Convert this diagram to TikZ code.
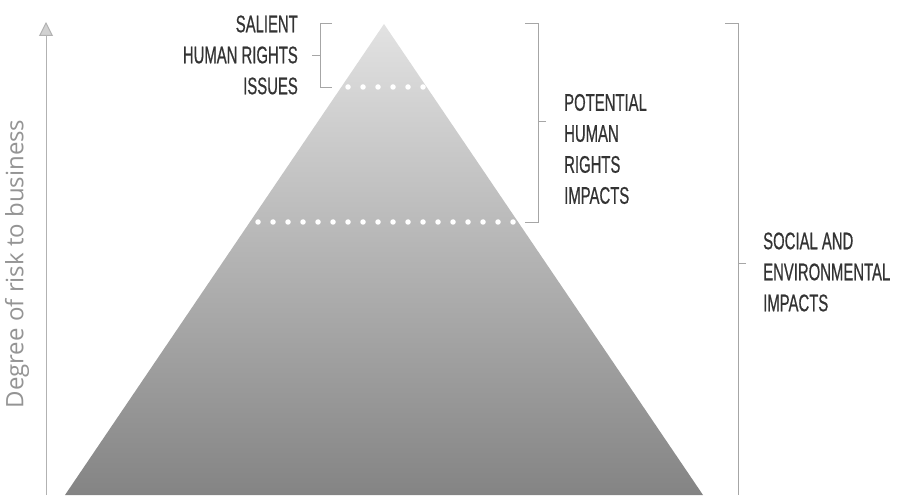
\documentclass[tikz,border=0pt]{standalone}
\usepackage{fontspec}
\setmainfont{Open Sans}
\newfontfamily\capsfont[FakeStretch=0.62,FakeBold=0.6]{Liberation Sans}
\usepackage{tikz}
\usetikzlibrary{arrows.meta,positioning,calc}

\begin{document}
\begin{tikzpicture}[x=1pt,y=1pt]
\tikzstyle{caps}=[font=\capsfont\fontsize{24}{31}\selectfont, text=black!80, inner sep=0pt]
\tikzstyle{brace}=[draw=black!35, line width=0.9pt]
\tikzstyle{dots}=[white, line width=5.5pt, line cap=round, dash pattern=on 0pt off 15pt]
\tikzstyle{connect}=[-{Triangle[width=14pt,length=14pt,fill=black!18]}, draw=black!30, line width=1pt]

\useasboundingbox (0,0) rectangle (900,496);

  % pyramid
  \coordinate (top)   at (384,472);
  \coordinate (baseL) at (65,1);
  \coordinate (baseR) at (703,1);
  \shade[top color={rgb,255:red,226;green,226;blue,226}, bottom color={rgb,255:red,132;green,132;blue,132}]
    (top) -- (baseL) -- (baseR) -- cycle;

  % level lines
  \coordinate (s1) at (348,409);
  \coordinate (s2) at (426,409);
  \coordinate (p1) at (258,274);
  \coordinate (p2) at (516,274);
  \draw[dots] (s1) -- (s2);
  \draw[dots] (p1) -- (p2);

  % axis
  \coordinate (ax0) at (46,1);
  \coordinate (ax1) at (46,474);
  \draw[connect] (ax0) -- (ax1);
  \node[rotate=90, text=black!42, font=\fontsize{24}{28}\selectfont] (risk) at (17,232) {Degree of risk to business};

  % labels
  \node[caps, align=right, anchor=east] (salient)   at (298,441) {SALIENT\\HUMAN RIGHTS\\ISSUES};
  \node[caps, align=left,  anchor=west] (potential) at (564,347) {POTENTIAL\\HUMAN\\RIGHTS\\IMPACTS};
  \node[caps, align=left,  anchor=west] (social)    at (763,224) {SOCIAL AND\\ENVIRONMENTAL\\IMPACTS};

  % brackets
  \coordinate (sa) at (332,473);
  \coordinate (sb) at (332,409);
  \coordinate (sm) at (312,441);
  \draw[brace] (sa) -- (sa -| 320,0) -- (sb -| 320,0) -- (sb);
  \draw[brace] (sm) -- (sm -| 320,0);

  \coordinate (pa) at (525,473);
  \coordinate (pb) at (525,274);
  \coordinate (pm) at (546,375);
  \draw[brace] (pa) -- (pa -| 538,0) -- (pb -| 538,0) -- (pb);
  \draw[brace] (pm) -- (pm -| 538,0);

  \coordinate (ea) at (725,473);
  \coordinate (eb) at (738,1);
  \coordinate (em) at (746,233);
  \draw[brace] (ea) -- (ea -| eb) -- (eb);
  \draw[brace] (em) -- (em -| eb);

\end{tikzpicture}
\end{document}
